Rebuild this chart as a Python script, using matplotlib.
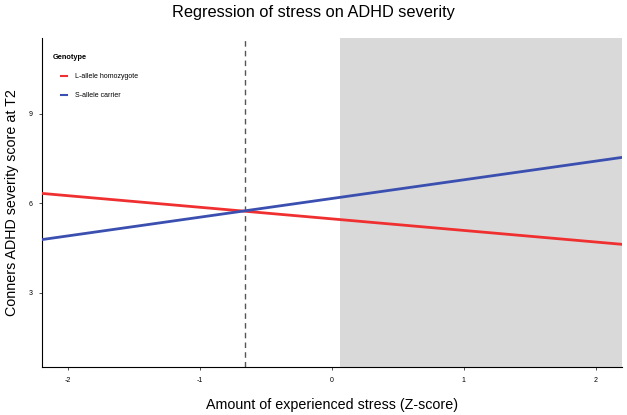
import numpy as np
import matplotlib.pyplot as plt
from matplotlib.legend_handler import HandlerLine2D

plt.rcParams['font.family'] = ['Liberation Sans', 'DejaVu Sans']
plt.rcParams['axes.unicode_minus'] = False

# data
stress = [-2.2, 2.2]
l_allele = [6.33, 4.62]
s_allele = [4.78, 7.54]
crossover = -0.66
region_start = 0.06
xticks = [-2, -1, 0, 1, 2]
yticks = [3, 6, 9]

fig = plt.figure(figsize=(6.27, 4.15), dpi=100)
ax = fig.add_axes([0.067, 0.1157, 0.925, 0.7927])

ax.axvspan(region_start, 2.2, color='#d9d9d9', lw=0, zorder=0)
ax.axvline(crossover, color='#555555', lw=1, ls=(0, (4, 3)), zorder=1)
line_l, = ax.plot(stress, l_allele, color='#f03030', lw=2, label='L-allele homozygote', zorder=3)
line_s, = ax.plot(stress, s_allele, color='#3a4fb0', lw=2, label='S-allele carrier', zorder=3)

ax.set_xlim(-2.2, 2.2)
ax.set_ylim(0.5, 11.55)
ax.set_xticks(xticks)
ax.set_yticks(yticks)
ax.tick_params(labelsize=5, length=2, width=0.6, color='#333333', pad=5)
for s in ['top', 'right']:
    ax.spines[s].set_visible(False)
for s in ['left', 'bottom']:
    ax.spines[s].set_linewidth(0.8)

ax.set_xlabel('Amount of experienced stress (Z-score)', fontsize=10.3, va='center')
ax.xaxis.set_label_coords(0.5, -(405 - 367) / 329)
ax.set_ylabel('Conners ADHD severity score at T2', fontsize=10.3, va='center')
ax.yaxis.set_label_coords((12 - 42) / 580, 0.5)
fig.text(0.5, 1 - 12 / 415, 'Regression of stress on ADHD severity', fontsize=11.8,
         ha='center', va='center')

hmap = {line_l: HandlerLine2D(xpad=1.2), line_s: HandlerLine2D(xpad=1.2)}
leg = ax.legend(loc='upper left', title='Genotype', fontsize=5, title_fontsize=5.3,
                frameon=False, handlelength=2.1, handletextpad=1.1, labelspacing=1.7,
                bbox_to_anchor=(0.007, 0.969), borderaxespad=0.5, handler_map=hmap)
leg.get_title().set_fontweight('bold')
leg._legend_box.align = 'left'
for h in leg.legend_handles:
    h.set_linewidth(1.5)

plt.savefig('out.png', dpi=100)
